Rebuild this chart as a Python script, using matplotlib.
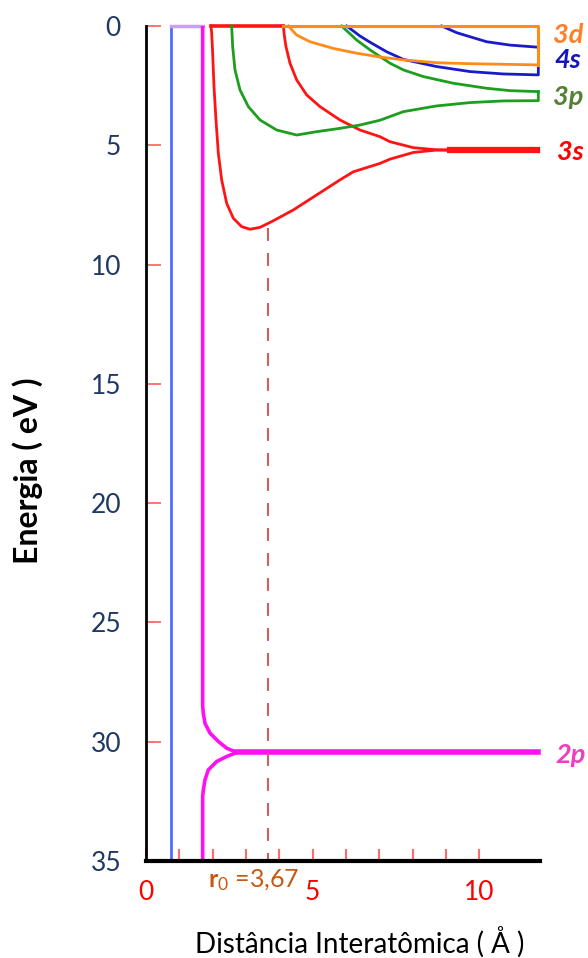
import matplotlib
matplotlib.use("Agg")
import matplotlib.pyplot as plt

plt.rcParams["mathtext.fontset"] = "custom"
plt.rcParams["mathtext.rm"] = "Lato"
plt.rcParams["mathtext.bf"] = "Lato:bold"
plt.rcParams["mathtext.it"] = "Lato:italic"

# ---------------- data ----------------
# x: interatomic distance (Å), y: energy (eV, axis inverted)
blue_x = [0.74, 0.74]
blue_y = [0, 35]
lav_x = [0.74, 1.70]
lav_y = [0, 0]

p2_up_x = [1.70, 1.70, 1.72, 1.77, 1.92, 2.17, 2.42, 2.67, 2.72]
p2_up_y = [0, 28.5, 28.81, 29.23, 29.64, 29.99, 30.27, 30.42, 30.45]
p2_lo_x = [1.70, 1.70, 1.72, 1.77, 1.87, 2.12, 2.42, 2.67, 2.72]
p2_lo_y = [35, 32.3, 32.02, 31.6, 31.18, 30.83, 30.62, 30.48, 30.45]
p2_lvl_x = [2.72, 11.77]
p2_lvl_y = [30.45, 30.45]

s3_top_x = [1.95, 4.12]
s3_top_y = [0, 0]
s3_lo_x = [1.95, 1.97, 2.00, 2.04, 2.10, 2.17, 2.27, 2.42, 2.62, 2.87, 3.12, 3.42,
           3.77, 4.42, 5.12, 5.82, 6.22, 7.02, 7.32, 8.02, 8.72, 9.12]
s3_lo_y = [0, 0.3, 1.14, 2.54, 3.94, 5.34, 6.45, 7.43, 8.06, 8.41, 8.52, 8.44,
           8.20, 7.71, 7.08, 6.45, 6.11, 5.76, 5.58, 5.30, 5.20, 5.20]
s3_up_x = [4.12, 4.15, 4.20, 4.32, 4.52, 4.82, 5.22, 5.82, 6.42, 7.02, 7.32, 8.02, 8.72, 9.12]
s3_up_y = [0, 0.4, 0.87, 1.56, 2.26, 2.89, 3.38, 3.94, 4.36, 4.64, 4.85, 5.10, 5.19, 5.20]
s3_lvl_x = [9.12, 11.72]
s3_lvl_y = [5.20, 5.20]

p3_lo_x = [2.57, 2.60, 2.67, 2.82, 3.07, 3.42, 3.92, 4.52, 5.12, 5.82, 6.42, 7.02,
           7.72, 8.72, 9.72, 10.72, 11.77, 11.77]
p3_lo_y = [0, 0.87, 1.84, 2.68, 3.38, 3.94, 4.36, 4.57, 4.43, 4.29, 4.15, 3.95,
           3.59, 3.35, 3.21, 3.14, 3.13, 2.75]
p3_up_x = [5.87, 6.32, 6.72, 7.32, 7.72, 8.32, 9.22, 10.22, 10.92, 11.77]
p3_up_y = [0, 0.59, 1.0, 1.56, 1.84, 2.12, 2.40, 2.61, 2.71, 2.75]

s4_lo_x = [6.02, 6.42, 6.72, 7.22, 7.72, 8.72, 9.72, 10.72, 11.77, 11.77]
s4_lo_y = [0, 0.42, 0.68, 1.08, 1.40, 1.70, 1.91, 2.01, 2.05, 1.70]
s4_up_x = [8.87, 9.32, 9.72, 10.22, 10.92, 11.77]
s4_up_y = [0, 0.28, 0.45, 0.66, 0.80, 0.89]

d3_top_x = [4.12, 11.77, 11.77]
d3_top_y = [0, 0, 1.63]
d3_lo_x = [4.27, 4.52, 4.92, 5.62, 6.32, 7.02, 7.72, 8.72, 9.72, 11.77]
d3_lo_y = [0, 0.38, 0.66, 0.94, 1.14, 1.30, 1.42, 1.54, 1.58, 1.63]

r0 = 3.67
r0_top = 8.45

y_ticks = [0, 5, 10, 15, 20, 25, 30, 35]
x_ticks = [0, 1, 2, 3, 4, 5, 6, 7, 8, 9, 10]
x_labels = ["0", "", "", "", "", "5", "", "", "", "", "10"]

level_labels = ["3d", "4s", "3p", "3s", "2p"]
level_lab_x = [12.66, 12.65, 12.66, 12.72, 12.75]
level_lab_y = [0.71, 1.76, 3.31, 5.62, 30.89]
level_lab_c = ["#FF7F27", "#1515C0", "#548235", "#FF0000", "#F03CC0"]

# ---------------- figure ----------------
fig = plt.figure(figsize=(5.88, 9.58), dpi=100)
ax = fig.add_axes([146 / 588, 1 - 861 / 958, (540 - 146) / 588, 835 / 958])
ax.set_xlim(0, 11.82)
ax.set_ylim(35, 0)

red = "#FF1414"
green = "#1E9E1E"
orange = "#FF8C1A"
blue = "#1A1ACC"
mag = "#FF10F0"
lw = 2.0

ax.plot(blue_x, blue_y, color="#4F6BFF", lw=2, clip_on=False)
ax.plot(lav_x, lav_y, color="#C8A0F0", lw=2.5, clip_on=False)
ax.plot(p2_up_x, p2_up_y, color=mag, lw=2.6, clip_on=False, solid_capstyle="butt")
ax.plot(p2_lo_x, p2_lo_y, color=mag, lw=2.6, clip_on=False, solid_capstyle="butt")
ax.plot(p2_lvl_x, p2_lvl_y, color=mag, lw=4, clip_on=False)

ax.plot(s3_top_x, s3_top_y, color=red, lw=2.6, clip_on=False)
ax.plot(s3_lo_x, s3_lo_y, color=red, lw=lw, clip_on=False)
ax.plot(s3_up_x, s3_up_y, color=red, lw=lw, clip_on=False)
ax.plot(s3_lvl_x, s3_lvl_y, color=red, lw=4.5, clip_on=False)

ax.plot(p3_lo_x, p3_lo_y, color=green, lw=lw, clip_on=False)
ax.plot(p3_up_x, p3_up_y, color=green, lw=lw, clip_on=False)

ax.plot(s4_lo_x, s4_lo_y, color=blue, lw=lw, clip_on=False)
ax.plot(s4_up_x, s4_up_y, color=blue, lw=lw, clip_on=False)

ax.plot(d3_top_x, d3_top_y, color=orange, lw=2.2, clip_on=False)
ax.plot(d3_lo_x, d3_lo_y, color=orange, lw=lw, clip_on=False)

ax.plot([r0, r0], [r0_top, 35], color="#D06060", lw=1.5, ls=(0, (6.2, 5.8)))

for lab, lx, ly, lc in zip(level_labels, level_lab_x, level_lab_y, level_lab_c):
    ax.text(lx, ly, lab, color=lc, fontsize=19.5, fontweight="bold", fontstyle="italic",
            family="Lato", ha="center", va="baseline", clip_on=False)

ax.text(1.86, 36.09, r"$\mathbf{r}_{0}$" + " =3,67", color="#C55A11", fontsize=18,
        family="Lato", ha="left", va="baseline", clip_on=False)

# spines
for s in ["top", "right"]:
    ax.spines[s].set_visible(False)
ax.spines["left"].set_linewidth(2)
ax.spines["left"].set_color("black")
ax.spines["bottom"].set_linewidth(3)
ax.spines["bottom"].set_color("black")

ax.set_yticks(y_ticks)
ax.set_yticklabels([str(v) for v in y_ticks], family="Lato")
ax.tick_params(axis="y", direction="in", length=11, width=1.3, color="#FF6A6A",
               labelcolor="#1F3864", labelsize=19, pad=18)
ax.set_xticks(x_ticks)
ax.set_xticklabels(x_labels, family="Lato")
ax.tick_params(axis="x", direction="in", length=8.5, width=1.5, color="#FF6A6A",
               labelcolor="#FF0000", labelsize=19, pad=14)

fig.text(28 / 588, 1 - 471 / 958, "Energia ( eV )", rotation=90, fontsize=23,
         fontweight="bold", family="Lato", ha="center", va="center")
fig.text(360 / 588, 1 - 942 / 958, "Distância Interatômica ( Å )", fontsize=20,
         family="Lato", ha="center", va="center")

fig.savefig("out.png", dpi=100)
